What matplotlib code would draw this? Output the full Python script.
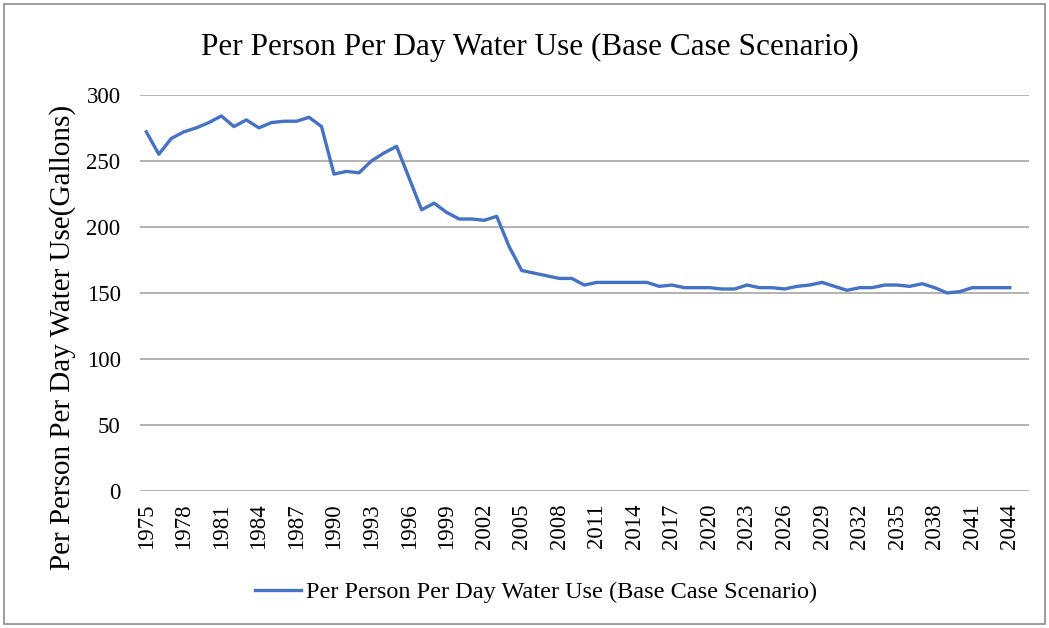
import matplotlib.pyplot as plt
from matplotlib.patches import Rectangle

years = list(range(1975, 2045))
water_use = [272, 255, 267, 272, 275, 279, 284, 276, 281, 275,
             279, 280, 280, 283, 276, 240, 242, 241, 250, 256,
             261, 237, 213, 218, 211, 206, 206, 205, 208, 185,
             167, 165, 163, 161, 161, 156, 158, 158, 158, 158,
             158, 155, 156, 154, 154, 154, 153, 153, 156, 154,
             154, 153, 155, 156, 158, 155, 152, 154, 154, 156,
             156, 155, 157, 154, 150, 151, 154, 154, 154, 154]
tick_years = years[::3]
y_ticks = [0, 50, 100, 150, 200, 250, 300]

plt.rcParams['font.family'] = ['Liberation Serif', 'DejaVu Serif']

fig = plt.figure(figsize=(10.49, 6.28), dpi=100)
ax = fig.add_axes([0.1335, 0.218, 0.847, 0.631])

ax.plot(years, water_use, color="#4472C4", linewidth=2.4,
        label="Per Person Per Day Water Use (Base Case Scenario)")

ax.set_xlim(1974.5, 2045.5)
ax.set_ylim(0, 300)
ax.set_yticks(y_ticks)
ax.set_xticks(tick_years)
ax.set_xticklabels([str(y) for y in tick_years], rotation=90, fontsize=16.5)
ax.tick_params(axis="y", labelsize=16.5, length=0, pad=14)
ax.tick_params(axis="x", length=0, pad=9)

ax.grid(axis="y", color="#A6A6A6", linewidth=1.2)
ax.set_axisbelow(True)
for side in ["top", "right", "left", "bottom"]:
    ax.spines[side].set_visible(False)

ax.set_ylabel("Per Person Per Day Water Use(Gallons)", fontsize=21)
ax.yaxis.set_label_coords(-0.072, 0.389)

fig.suptitle("Per Person Per Day Water Use (Base Case Scenario)",
             fontsize=22.5, x=0.505, y=0.948)

fig.legend(loc="center", bbox_to_anchor=(0.511, 0.057), frameon=False,
           fontsize=17.5, handlelength=1.9, handletextpad=0.2)

fig.patches.append(Rectangle((0.004, 0.006), 0.992, 0.988,
                             transform=fig.transFigure, fill=False,
                             edgecolor="#8C8C8C", linewidth=1.2))

plt.savefig("out.png", dpi=100)
